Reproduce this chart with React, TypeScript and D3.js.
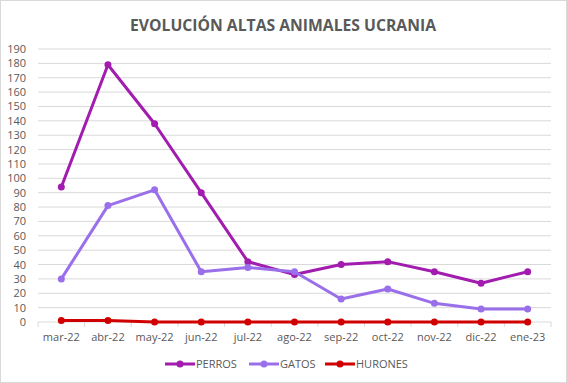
import React from "react";
import * as d3 from "d3";

const categories = ["mar-22", "abr-22", "may-22", "jun-22", "jul-22", "ago-22", "sep-22", "oct-22", "nov-22", "dic-22", "ene-23"];
const perros = [94, 179, 138, 90, 42, 33, 40, 42, 35, 27, 35];
const gatos = [30, 81, 92, 35, 38, 35, 16, 23, 13, 9, 9];
const hurones = [1, 1, 0, 0, 0, 0, 0, 0, 0, 0, 0];
const yTicks = d3.range(0, 200, 10);

const seriesList = [
  { name: "PERROS", values: perros, color: "#A21CAF" },
  { name: "GATOS", values: gatos, color: "#9A6FEA" },
  { name: "HURONES", values: hurones, color: "#D00000" },
];

const W = 567, H = 383;
const left = 38, right = 551, top = 49, bottom = 322;
const font = "Open Sans, Liberation Sans, sans-serif";

export default function App() {
  const x = d3.scaleBand().domain(categories).range([left, right]);
  const y = d3.scaleLinear().domain([0, 190]).range([bottom, top]);
  const line = d3.line<number>().x((_, i) => (x(categories[i]) as number) + x.bandwidth() / 2).y((d) => y(d));
  const legendX = [165, 249, 325];
  return (
    <svg width={W} height={H} style={{ position: "absolute", left: 0, top: 0 }}>
      <rect x={0.5} y={0.5} width={W - 1} height={H - 1} fill="#fff" stroke="#d9d9d9" />
      <text x={283} y={31} textAnchor="middle" fontFamily={font} fontWeight="bold" fontSize={16} fill="#595959" textLength={306} lengthAdjust="spacingAndGlyphs">
        EVOLUCIÓN ALTAS ANIMALES UCRANIA
      </text>
      {yTicks.map((t) => (
        <g key={t}>
          {t > 0 && <line x1={left} x2={right} y1={y(t)} y2={y(t)} stroke="#d9d9d9" strokeWidth={1} />}
          <text x={26} y={y(t) + 4} textAnchor="end" fontFamily={font} fontSize={11} fill="#595959">{t}</text>
        </g>
      ))}
      <line x1={left} x2={right} y1={bottom} y2={bottom} stroke="#d9d9d9" />
      {categories.map((c, i) => (
        <line key={"tk" + i} x1={x(c) as number} x2={x(c) as number} y1={bottom} y2={bottom + 5} stroke="#d9d9d9" />
      ))}
      <line x1={right} x2={right} y1={bottom} y2={bottom + 5} stroke="#d9d9d9" />
      {categories.map((c) => (
        <text key={c} x={(x(c) as number) + x.bandwidth() / 2} y={341} textAnchor="middle" fontFamily={font} fontSize={11} fill="#595959">{c}</text>
      ))}
      {seriesList.map((s) => (
        <g key={s.name}>
          <path d={line(s.values) || ""} fill="none" stroke={s.color} strokeWidth={3} strokeLinejoin="round" />
          {s.values.map((v, i) => (
            <circle key={i} cx={(x(categories[i]) as number) + x.bandwidth() / 2} cy={y(v)} r={3.5} fill={s.color} />
          ))}
        </g>
      ))}
      {seriesList.map((s, i) => (
        <g key={"lg" + s.name}>
          <line x1={legendX[i]} x2={legendX[i] + 30} y1={364} y2={364} stroke={s.color} strokeWidth={3} />
          <circle cx={legendX[i] + 15} cy={364} r={3.5} fill={s.color} />
          <text x={legendX[i] + 31} y={368} fontFamily={font} fontSize={11} fill="#595959">{s.name}</text>
        </g>
      ))}
    </svg>
  );
}
